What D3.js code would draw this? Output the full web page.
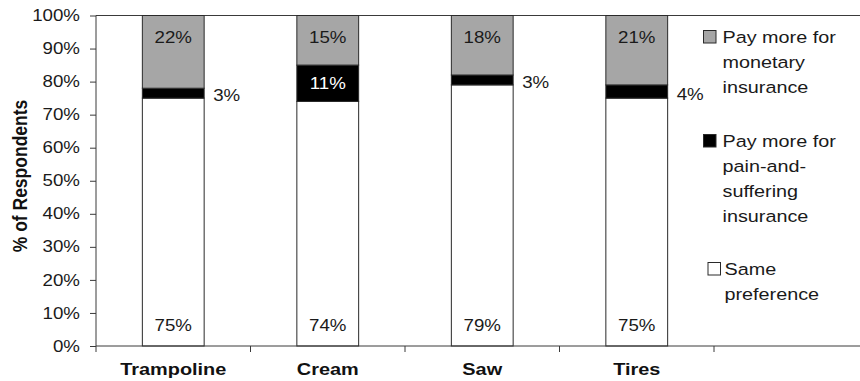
<!DOCTYPE html>
<html>
<head>
<meta charset="utf-8">
<script src="https://cdn.jsdelivr.net/npm/d3@7/dist/d3.min.js"></script>
<style>
  html, body { margin: 0; padding: 0; background: #fff; }
  svg { display: block; font-family: "Liberation Sans", Arial, Helvetica, sans-serif; }
</style>
</head>
<body>
<svg id="chart" width="860" height="381"></svg>
<script>
// Products asked about
const categories = ["Trampoline", "Cream", "Saw", "Tires"];
// Share of respondents (%) per preference, stacked bottom to top
const samePreference = [75, 74, 79, 75];
const painAndSuffering = [3, 11, 3, 4];
const monetary = [22, 15, 18, 21];
const yTicks = [0, 10, 20, 30, 40, 50, 60, 70, 80, 90, 100];

const series = [
  { key: "same", values: samePreference, fill: "#ffffff", label: ["Same", "preference"] },
  { key: "pain", values: painAndSuffering, fill: "#000000", label: ["Pay more for", "pain-and-", "suffering", "insurance"] },
  { key: "money", values: monetary, fill: "#a6a6a6", label: ["Pay more for", "monetary", "insurance"] }
];

const svg = d3.select("#chart");
const axisColor = "#3a3a3a";
const textColor = "#1a1a1a";
const SX = 1.17; // horizontal widening of the lettering
const plotLeft = 96, plotRight = 714, plotTop = 15.5, plotBottom = 346;

const x = d3.scaleBand().domain(categories).range([plotLeft, plotRight])
  .paddingInner(0.6).paddingOuter(0.3);
const y = d3.scaleLinear().domain([0, 100]).range([plotBottom, plotTop]);

// Place a text element at (px, py) with widened glyphs
function putText(parent, px, py, str, opts = {}) {
  return parent.append("text")
    .attr("transform", `translate(${px},${py}) scale(${opts.sx || SX},1)`)
    .attr("text-anchor", opts.anchor || "middle")
    .attr("font-size", opts.size || 16)
    .attr("font-weight", opts.weight || "normal")
    .attr("fill", opts.fill || textColor)
    .text(str);
}

// Stack the three preference groups
const rows = categories.map((c, i) => ({ cat: c, same: samePreference[i], pain: painAndSuffering[i], money: monetary[i] }));
const stacked = d3.stack().keys(["same", "pain", "money"])(rows);

// Frame line across the top
svg.append("line").attr("x1", plotLeft).attr("x2", 860).attr("y1", plotTop).attr("y2", plotTop)
  .attr("stroke", axisColor).attr("stroke-width", 1);

// Bars
stacked.forEach((layer, li) => {
  svg.append("g").selectAll("rect").data(layer).join("rect")
    .attr("x", d => x(d.data.cat))
    .attr("width", x.bandwidth())
    .attr("y", d => y(d[1]))
    .attr("height", d => y(d[0]) - y(d[1]))
    .attr("fill", series[li].fill)
    .attr("stroke", "#2a2a2a")
    .attr("stroke-width", 1);
});

// Value labels
const lbl = svg.append("g");
stacked.forEach((layer, li) => {
  layer.forEach(d => {
    const v = d[1] - d[0];
    const cx = x(d.data.cat) + x.bandwidth() / 2;
    const key = series[li].key;
    if (key === "same") {
      putText(lbl, cx, y(d[0]) - 15, v + "%");
    } else if (key === "money") {
      putText(lbl, cx, y(d[1]) + 27.5, v + "%");
    } else {
      const mid = (y(d[0]) + y(d[1])) / 2;
      if (v >= 6) {
        putText(lbl, cx, mid + 6, v + "%", { fill: "#ffffff" });
      } else {
        putText(lbl, x(d.data.cat) + x.bandwidth() + 9, mid + 8, v + "%", { anchor: "start" });
      }
    }
  });
});

// Y axis
const yAxis = d3.axisLeft(y).tickValues(yTicks).tickFormat(d => d + "%").tickSize(6).tickPadding(9);
const yg = svg.append("g").attr("transform", `translate(${plotLeft},0)`).call(yAxis);
yg.select(".domain").remove();
yg.selectAll(".tick line").attr("stroke", axisColor);
yg.selectAll("text")
  .attr("x", -16 / SX)
  .attr("transform", `scale(${SX},1)`)
  .attr("font-size", 16).attr("fill", textColor)
  .attr("font-family", "'Liberation Sans', Arial, sans-serif");
svg.append("line").attr("x1", plotLeft).attr("x2", plotLeft).attr("y1", plotTop).attr("y2", plotBottom + 6)
  .attr("stroke", axisColor);

// X axis with ticks at the category boundaries
svg.append("line").attr("x1", plotLeft).attr("x2", 860).attr("y1", plotBottom).attr("y2", plotBottom)
  .attr("stroke", axisColor);
const gap = (x.step() - x.bandwidth()) / 2;
const bounds = categories.map(c => x(c) - gap).concat([x(categories[categories.length - 1]) + x.bandwidth() + gap]);
svg.append("g").selectAll("line").data(bounds.slice(1)).join("line")
  .attr("x1", d => d).attr("x2", d => d).attr("y1", plotBottom).attr("y2", plotBottom + 6)
  .attr("stroke", axisColor);
const xl = svg.append("g");
categories.forEach(c => {
  putText(xl, x(c) + x.bandwidth() / 2, 375, c, { size: 17, weight: "bold", fill: "#111" });
});

// Y axis title
svg.append("text")
  .attr("transform", "translate(27,176) rotate(-90) scale(1,1.17)")
  .attr("text-anchor", "middle")
  .attr("font-size", 17.5).attr("font-weight", "bold").attr("fill", "#111")
  .text("% of Respondents");

// Legend, top entry first
const legendEntries = [
  { s: series[2], y0: 43, mx: 703.5, tx: 722.5 },
  { s: series[1], y0: 147, mx: 703.5, tx: 722.5 },
  { s: series[0], y0: 275, mx: 708, tx: 724.5 }
];
const lg = svg.append("g");
legendEntries.forEach(e => {
  lg.append("rect").attr("x", e.mx).attr("y", e.y0 - 12.5).attr("width", 12.5).attr("height", 12.5)
    .attr("fill", e.s.fill).attr("stroke", "#2a2a2a").attr("stroke-width", 1);
  const t = lg.append("text")
    .attr("transform", `translate(${e.tx},${e.y0}) scale(1.2,1)`)
    .attr("font-size", 16.5).attr("fill", textColor);
  e.s.label.forEach((line, i) => {
    t.append("tspan").attr("x", 0).attr("y", i * 25).text(line);
  });
});
</script>
</body>
</html>
